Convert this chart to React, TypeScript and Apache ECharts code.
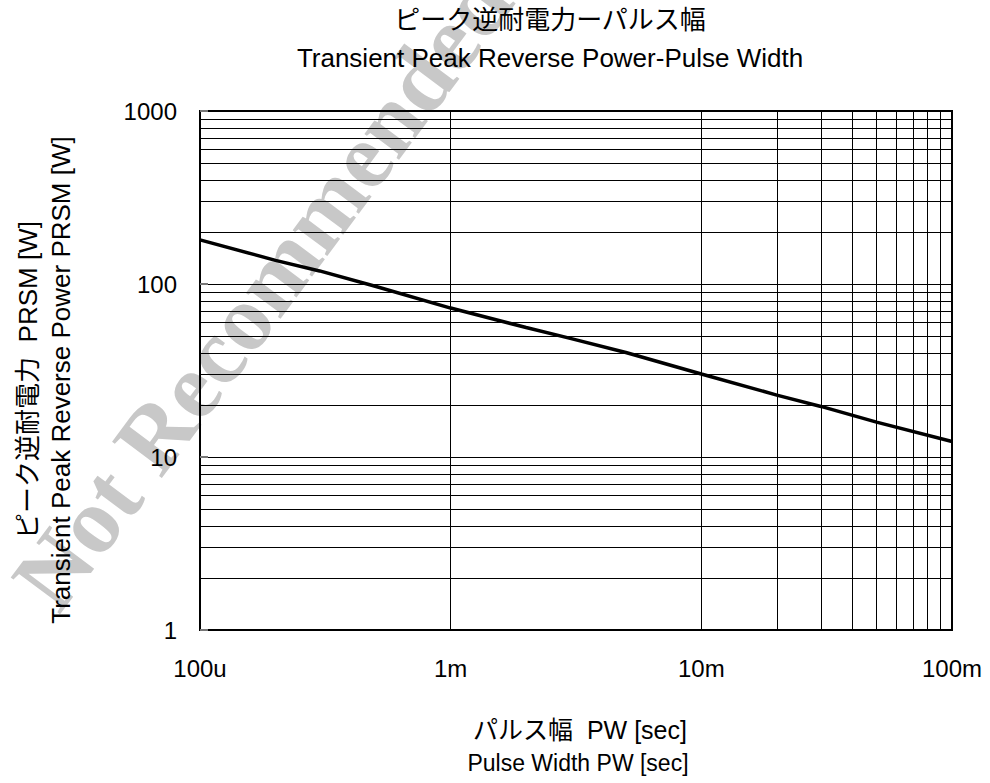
import React, { useEffect, useRef } from "react";
import * as echarts from "echarts";

// Pulse width [s] and transient peak reverse power [W]
const pulseWidth = [1e-4, 2e-4, 3e-4, 5e-4, 1e-3, 2e-3, 3e-3, 5e-3, 1e-2, 2e-2, 3e-2, 5e-2, 1e-1];
const peakPower = [180, 137, 119, 97, 72.6, 56, 48.5, 40.2, 30.2, 22.8, 19.6, 15.9, 12.3];

const xTickLabels: Record<string, string> = { "0.0001": "100u", "0.001": "1m", "0.01": "10m", "0.1": "100m" };
const yTickLabels: Record<string, string> = { "1": "1", "10": "10", "100": "100", "1000": "1000" };
const xDecades = [1e-4, 1e-3, 1e-2];
const yDecades = [1, 10, 100];
const minorSteps = [2, 3, 4, 5, 6, 7, 8, 9];

const FONT = "'Liberation Sans', Arial, 'Noto Sans CJK JP', sans-serif";

export default function App() {
  const ref = useRef<HTMLDivElement>(null);
  useEffect(() => {
    if (!ref.current) return;
    const chart = echarts.init(ref.current, undefined, { renderer: "svg" });
    const xMinor: number[] = [];
    xDecades.forEach((d) => minorSteps.forEach((m) => xMinor.push(+(d * m).toPrecision(6))));
    const yMinor: number[] = [];
    yDecades.forEach((d) => minorSteps.forEach((m) => yMinor.push(d * m)));

    const gridLine = { color: "#000", width: 1, type: "solid" as const };
    const txt = (x: number, y: number, text: string, fontSize: number, rotation = 0) => ({
      type: "text",
      x,
      y,
      rotation,
      z: 10,
      style: { text, fontSize, fontFamily: FONT, fill: "#000", textAlign: "center", textVerticalAlign: "middle" },
    });
    chart.setOption({
      animation: false,
      backgroundColor: "#fff",
      textStyle: { fontFamily: FONT },
      grid: { left: 200, top: 111, width: 752, height: 519, show: true, borderColor: "#000", borderWidth: 2, backgroundColor: "transparent" },
      xAxis: {
        type: "log",
        logBase: 10,
        min: 1e-4,
        max: 1e-1,
        axisLine: { show: true, lineStyle: { color: "#000", width: 2 } },
        axisTick: { show: false },
        splitLine: { show: true, lineStyle: gridLine },
        axisLabel: {
          color: "#000",
          fontSize: 24,
          fontFamily: FONT,
          margin: 26,
          formatter: (v: number) => xTickLabels[String(+v.toPrecision(6))] ?? "",
        },
      },
      yAxis: {
        type: "log",
        logBase: 10,
        min: 1,
        max: 1000,
        axisLine: { show: true, lineStyle: { color: "#000", width: 2 } },
        axisTick: { show: true, inside: true, length: 8, lineStyle: { color: "#777", width: 2 } },
        splitLine: { show: true, lineStyle: gridLine },
        axisLabel: {
          color: "#000",
          fontSize: 24,
          fontFamily: FONT,
          margin: 23,
          formatter: (v: number) => yTickLabels[String(Math.round(v))] ?? "",
        },
      },
      graphic: [
        {
          type: "text",
          z: -10,
          x: 262,
          y: 290,
          rotation: 0.93,
          silent: true,
          style: {
            text: "Not Recommended",
            fontSize: 94,
            fontWeight: "bold",
            fontFamily: "'Liberation Serif', 'Times New Roman', serif",
            fill: "#c8c8c8",
            textAlign: "center",
            textVerticalAlign: "middle",
          },
        },
        txt(550, 20, "ピーク逆耐電力ーパルス幅", 26),
        txt(550, 58, "Transient Peak Reverse Power-Pulse Width", 26),
        txt(580, 730, "パルス幅  PW [sec]", 25),
        txt(578, 763, "Pulse Width PW [sec]", 23),
        txt(28, 380, "ピーク逆耐電力  PRSM [W]", 26, Math.PI / 2),
        txt(61, 380, "Transient Peak Reverse Power PRSM [W]", 26, Math.PI / 2),
      ],
      series: [
        {
          type: "line",
          data: pulseWidth.map((x, i) => [x, peakPower[i]]),
          showSymbol: false,
          symbol: "none",
          z: 5,
          lineStyle: { color: "#000", width: 3.5 },
          markLine: {
            silent: true,
            symbol: "none",
            label: { show: false },
            lineStyle: { color: "#000", width: 1, type: "solid" },
            data: [...xMinor.map((v) => ({ xAxis: v })), ...yMinor.map((v) => ({ yAxis: v }))],
          },
        },
      ],
    });
    return () => chart.dispose();
  }, []);
  return <div ref={ref} style={{ position: "fixed", left: 0, top: 0, width: 990, height: 783 }} />;
}
